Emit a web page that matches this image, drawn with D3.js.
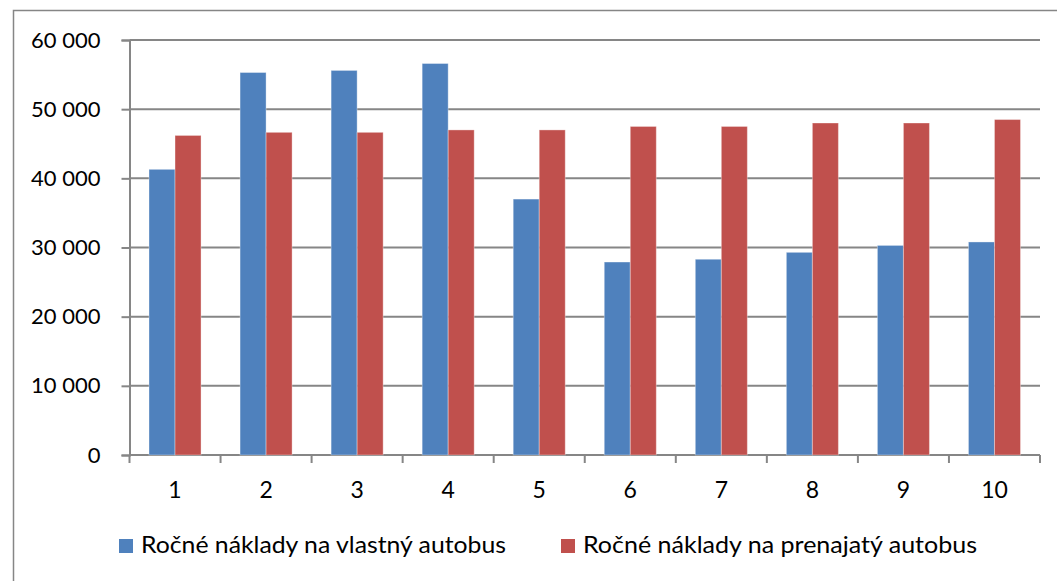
<!DOCTYPE html>
<html>
<head>
<meta charset="utf-8">
<script src="https://cdn.jsdelivr.net/npm/d3@7"></script>
<style>
  body { margin: 0; background: #fff; }
  text { font-family: Lato, "Open Sans", sans-serif; fill: #000; }
</style>
</head>
<body>
<svg width="1057" height="581"></svg>
<script>
// data
let categories = ['1', '2', '3', '4', '5', '6', '7', '8', '9', '10'];
let seriesNames = ['Ročné náklady na vlastný autobus', 'Ročné náklady na prenajatý autobus'];
let ownBus = [41300, 55300, 55600, 56600, 37000, 27900, 28300, 29300, 30300, 30800];
let rentedBus = [46200, 46650, 46650, 47000, 47000, 47500, 47500, 48000, 48000, 48500];
let yTicks = [0, 10000, 20000, 30000, 40000, 50000, 60000];
let colors = ['#4F81BD', '#C0504D'];

let svg = d3.select('svg');

// chart frame
svg.append('rect')
   .attr('x', 13.5).attr('y', 10.5)
   .attr('width', 1100).attr('height', 600)
   .attr('fill', 'none')
   .attr('stroke', '#868686')
   .attr('stroke-width', 1.5);

let plotLeft = 129.5, plotRight = 1040, plotTop = 40, plotBottom = 455;

let x0 = d3.scaleBand()
  .domain(categories)
  .range([plotLeft, plotRight])
  .paddingInner(1.5 / 3.5)
  .paddingOuter(0.75 / 3.5);

let x1 = d3.scaleBand()
  .domain([0, 1])
  .range([0, x0.bandwidth()]);

let y = d3.scaleLinear()
  .domain([0, 60000])
  .range([plotBottom, plotTop]);

let fmt = v => d3.format(',')(v).replace(/,/g, ' ');

// gridlines
svg.append('g')
   .selectAll('line')
   .data(yTicks.filter(t => t > 0))
   .enter()
   .append('line')
   .attr('x1', plotLeft).attr('x2', plotRight)
   .attr('y1', d => y(d)).attr('y2', d => y(d))
   .attr('stroke', '#868686')
   .attr('stroke-width', 2);

// y axis
let yAxis = svg.append('g')
   .attr('transform', `translate(${plotLeft},0)`)
   .call(d3.axisLeft(y).tickValues(yTicks).tickFormat(fmt).tickSize(8).tickPadding(21));
yAxis.select('.domain').attr('stroke', '#868686').attr('stroke-width', 2);
yAxis.selectAll('.tick line').attr('stroke', '#868686').attr('stroke-width', 2);
yAxis.selectAll('text').style('font-size', '22px').style('font-family', 'Lato');

// x axis (ticks at category boundaries)
let xAxis = svg.append('g')
   .attr('transform', `translate(0,${plotBottom})`);
xAxis.append('line')
   .attr('x1', plotLeft).attr('x2', plotRight)
   .attr('stroke', '#868686').attr('stroke-width', 2);
let bounds = d3.range(categories.length + 1).map(i => plotLeft + i * x0.step());
xAxis.selectAll('.xtick')
   .data(bounds)
   .enter()
   .append('line')
   .attr('x1', d => d).attr('x2', d => d)
   .attr('y1', 0).attr('y2', 8)
   .attr('stroke', '#868686').attr('stroke-width', 2);
xAxis.selectAll('.xlabel')
   .data(categories)
   .enter()
   .append('text')
   .attr('x', d => x0(d) + x0.bandwidth() / 2)
   .attr('y', 43)
   .attr('text-anchor', 'middle')
   .style('font-size', '23px')
   .text(d => d);

// bars
let groups = svg.append('g')
   .selectAll('g')
   .data(categories)
   .enter()
   .append('g')
   .attr('transform', d => `translate(${x0(d)},0)`);

groups.selectAll('rect')
   .data((d, i) => [ownBus[i], rentedBus[i]])
   .enter()
   .append('rect')
   .attr('x', (d, j) => x1(j))
   .attr('width', x1.bandwidth())
   .attr('y', d => y(d))
   .attr('height', d => plotBottom - y(d))
   .attr('fill', (d, j) => colors[j])
   .attr('stroke', 'rgba(255,255,255,0.35)')
   .attr('stroke-width', 1);

// legend
let legendPos = [119, 561];
let legendWidths = [365, 394];
let legend = svg.append('g')
   .selectAll('g')
   .data(seriesNames)
   .enter()
   .append('g')
   .attr('transform', (d, i) => `translate(${legendPos[i]},539)`);
legend.append('rect')
   .attr('width', 14).attr('height', 14)
   .attr('fill', (d, i) => colors[i]);
legend.append('text')
   .attr('x', 22).attr('y', 14)
   .attr('textLength', (d, i) => legendWidths[i])
   .attr('lengthAdjust', 'spacingAndGlyphs')
   .style('font-size', '23px')
   .text(d => d);
</script>
</body>
</html>
